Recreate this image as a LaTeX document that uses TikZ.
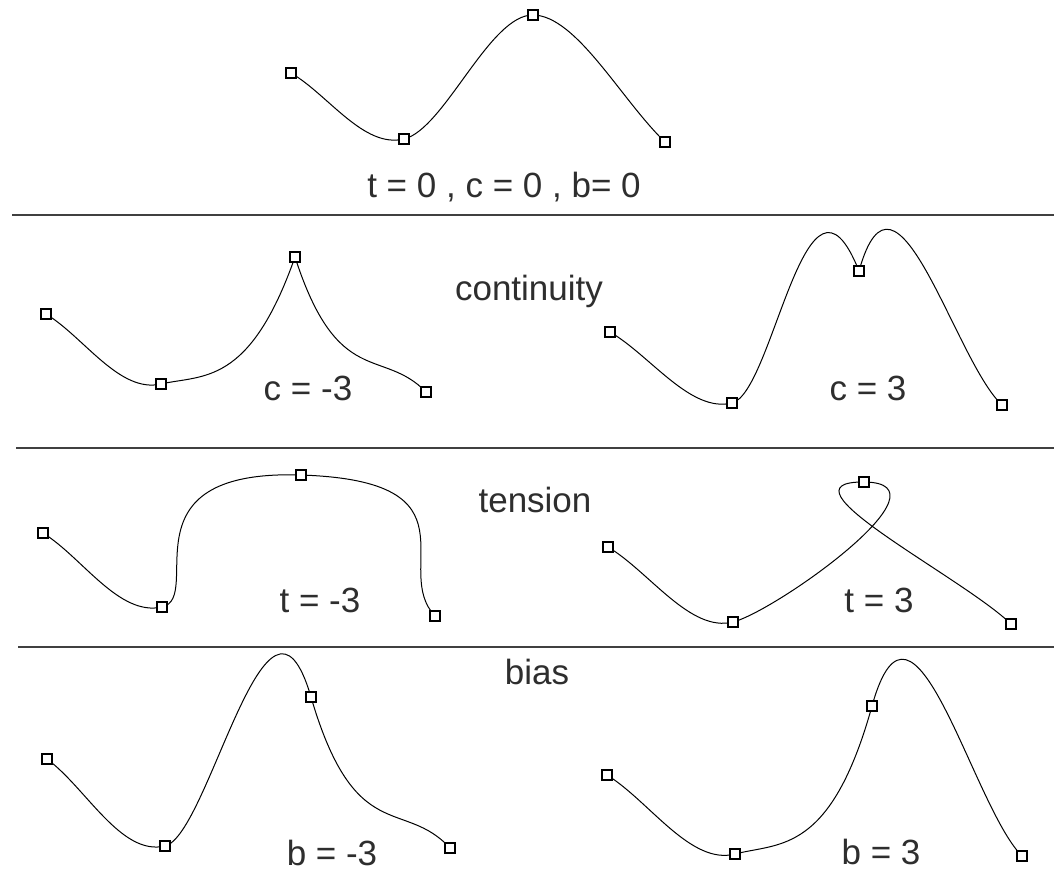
\documentclass[tikz,border=0pt]{standalone}
\usepackage{fontspec}
\setmainfont{Liberation Sans}
\usetikzlibrary{calc}
\tikzset{
  curve/.style={draw=black,line width=1pt},
  ptbox/.style={draw=black,fill=white,line width=1.4pt,minimum size=10pt,inner sep=0pt,outer sep=0pt},
  sep/.style={draw=black!75,line width=1.6pt},
  lab/.style={anchor=base,inner sep=0pt,text=black!82,font=\fontsize{35}{40}\selectfont}
}
% #1 prefix, #2 k1, #3 k3 (incoming at P2), #4 m1, #5 m3 (outgoing at P2)
\newcommand{\kbdraw}[5]{%
  \draw[curve] (#10) .. controls ($(#10)!1/3!(#11)$) and ($(#11)+{1/6}*(#10)-{1/6}*(#12)$) .. (#11)
    .. controls ($(#11)+{1/6}*(#12)-{1/6}*(#10)$) and ($ {#2}*(#11) + {1-(#2)-(#3)}*(#12) + {#3}*(#13) $) .. (#12)
    .. controls ($ {#4}*(#11) + {1-(#4)-(#5)}*(#12) + {#5}*(#13) $) and ($(#13)!1/3!(#12)$) .. (#13);
  \foreach \i in {0,...,3} {\node[ptbox] (#1box\i) at (#1\i) {};}
}
\begin{document}
\begin{tikzpicture}[x=1pt,y=-1pt]
\useasboundingbox[fill=white] (0,0) rectangle (1054,873);
% separators
\coordinate (s1a) at (12,215);  \coordinate (s1b) at (1054,215);
\coordinate (s2a) at (16,448);  \coordinate (s2b) at (1054,448);
\coordinate (s3a) at (18,647);  \coordinate (s3b) at (1054,647);
\draw[sep] (s1a) -- (s1b);
\draw[sep] (s2a) -- (s2b);
\draw[sep] (s3a) -- (s3b);
% top: t=0,c=0,b=0
\coordinate (A0) at (291,73);  \coordinate (A1) at (404,139);
\coordinate (A2) at (533,15);  \coordinate (A3) at (665,142);
\kbdraw{A}{1/6}{-1/6}{-1/6}{1/6}
% c = -3
\coordinate (B0) at (46,314);  \coordinate (B1) at (161,384);
\coordinate (B2) at (295,257); \coordinate (B3) at (426,392);
\kbdraw{B}{2/3}{1/3}{1/3}{2/3}
% c = 3
\coordinate (C0) at (610,332); \coordinate (C1) at (732,403);
\coordinate (C2) at (859,271); \coordinate (C3) at (1002,405);
\kbdraw{C}{-1/3}{-2/3}{-2/3}{-1/3}
% t = -3
\coordinate (D0) at (43,533);  \coordinate (D1) at (162,607);
\coordinate (D2) at (301,475); \coordinate (D3) at (435,616);
\kbdraw{D}{2/3}{-2/3}{-2/3}{2/3}
% t = 3
\coordinate (E0) at (608,547); \coordinate (E1) at (733,622);
\coordinate (E2) at (864,482); \coordinate (E3) at (1011,624);
\kbdraw{E}{-1/3}{1/3}{1/3}{-1/3}
% b = -3
\coordinate (F0) at (47,759);  \coordinate (F1) at (165,846);
\coordinate (F2) at (311,697); \coordinate (F3) at (450,848);
\kbdraw{F}{-1/3}{-2/3}{1/3}{2/3}
% b = 3
\coordinate (G0) at (607,775); \coordinate (G1) at (735,854);
\coordinate (G2) at (872,706); \coordinate (G3) at (1022,856);
\kbdraw{G}{2/3}{1/3}{-2/3}{-1/3}
% labels
\node[lab] (l0) at (504,197) {t = 0 , c = 0 , b= 0};
\node[lab] (lcont) at (529,300) {continuity};
\node[lab] (lcm) at (308,400) {c = -3};
\node[lab] (lcp) at (868,400) {c = 3};
\node[lab] (ltens) at (535,512) {tension};
\node[lab] (ltm) at (320,612) {t = -3};
\node[lab] (ltp) at (879,612) {t = 3};
\node[lab] (lbias) at (537,684) {bias};
\node[lab] (lbm) at (332,865) {b = -3};
\node[lab] (lbp) at (881,864) {b = 3};
\end{tikzpicture}
\end{document}
